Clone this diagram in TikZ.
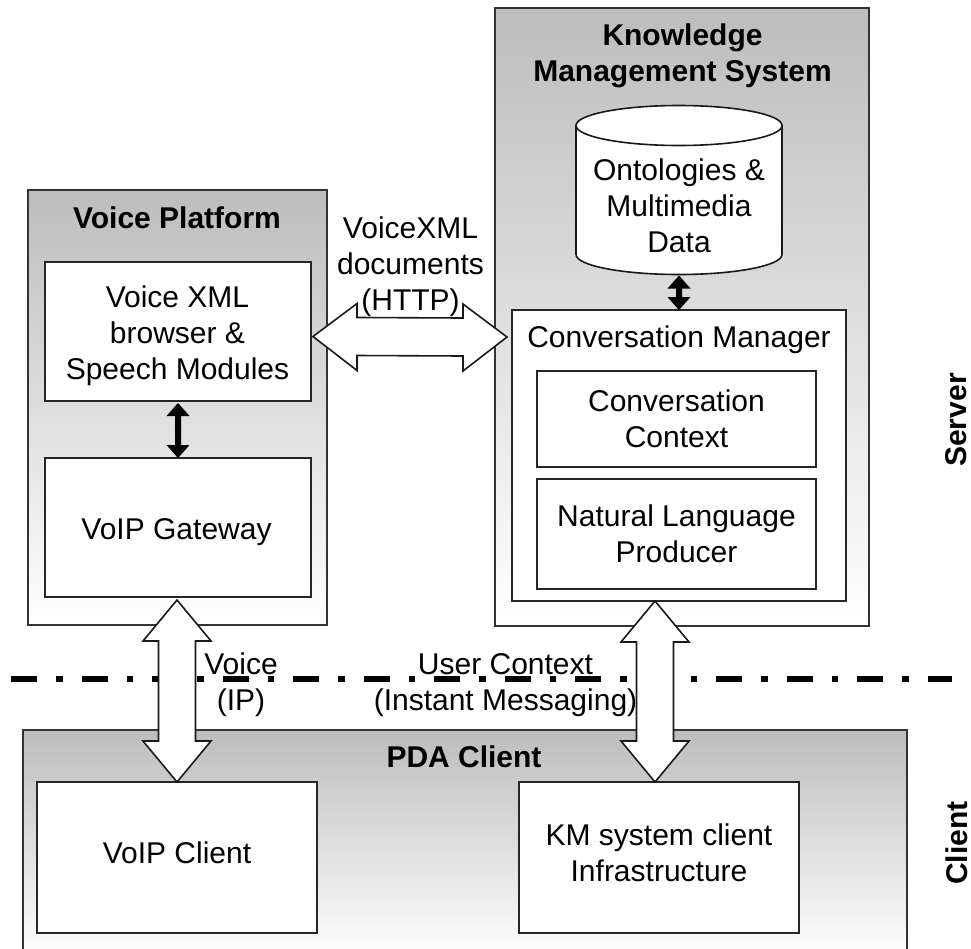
\documentclass[tikz,border=0pt]{standalone}
\usepackage{fontspec}
\setmainfont{Liberation Sans}
\usetikzlibrary{calc}
\definecolor{panelgray}{gray}{0.74}
\tikzset{
  x=1pt,y=-1pt,
  every node/.style={inner sep=0pt,outer sep=0pt},
  lbl/.style={font=\fontsize{30}{36}\selectfont,align=center,text=black},
  title/.style={font=\fontsize{30}{36}\selectfont\bfseries,align=center,text=black},
  panel/.style={draw=black!80,line width=1.4pt,rectangle,anchor=north west,top color=panelgray,bottom color=white},
  inner/.style={draw=black!85,line width=1.6pt,rectangle,fill=white,anchor=north west,lbl},
  block/.style={draw=black!90,line width=1.6pt,fill=white,line join=miter},
  solid arrow/.style={fill=black,draw=none},
  sep/.style={line width=6pt,black,dash pattern=on 26pt off 19pt on 6.5pt off 19pt}
}
\newcommand{\vblock}[2]{%
  \draw[block] (#1) -- ($(#1)+(34,41)$) -- ($(#1)+(18.5,41)$) -- ($(#2)+(18.5,-41)$) -- ($(#2)+(34,-41)$) -- (#2)
     -- ($(#2)+(-34,-41)$) -- ($(#2)+(-18.5,-41)$) -- ($(#1)+(-18.5,41)$) -- ($(#1)+(-34,41)$) -- cycle;}
\newcommand{\vsolid}[2]{%
  \fill[solid arrow] (#1) -- ($(#1)+(11.5,13)$) -- ($(#1)+(3,13)$) -- ($(#2)+(3,-13)$) -- ($(#2)+(11.5,-13)$) -- (#2)
     -- ($(#2)+(-11.5,-13)$) -- ($(#2)+(-3,-13)$) -- ($(#1)+(-3,13)$) -- ($(#1)+(-11.5,13)$) -- cycle;}
\begin{document}
\begin{tikzpicture}
\useasboundingbox (0,0) rectangle (971,948);
\clip (0,0) rectangle (971,948);
% panels
\node[panel,minimum width=299pt,minimum height=435pt] (vp) at (28,190) {};
\node[panel,minimum width=374pt,minimum height=618pt] (kms) at (495,8) {};
\node[panel,minimum width=884pt,minimum height=228pt] (pda) at (23,730) {};
% titles
\node[title] (vptitle) at (177,218) {Voice Platform};
\node[title] (kmstitle) at (682.5,56) {Knowledge\\Management System};
\node[title] (pdatitle) at (464,757) {PDA Client};
% inner boxes
\node[inner,minimum width=266pt,minimum height=139pt] (vxml) at (45,262) {};
\node[lbl] (vxmltext) at (177.5,335.5) {Voice XML\\browser \&\\Speech Modules};
\node[inner,minimum width=266pt,minimum height=139pt] (gw) at (45,458) {};
\node[lbl] (gwtext) at (176.5,532) {VoIP Gateway};
\node[inner,minimum width=334pt,minimum height=291pt] (cm) at (512,310) {};
\node[lbl] (cmtitle) at (679,340) {Conversation Manager};
\node[inner,minimum width=279pt,minimum height=96pt] (ctx) at (537,371) {Conversation\\Context};
\node[inner,minimum width=279pt,minimum height=110pt] (nlp) at (537,479) {Natural Language\\Producer};
\node[inner,minimum width=280pt,minimum height=151pt] (vc) at (37,782) {};
\node[lbl] (vctext) at (177,853) {VoIP Client};
\node[inner,minimum width=280pt,minimum height=151pt] (kc) at (519,782) {};
\node[lbl] (kctext) at (659,852.5) {KM system client\\Infrastructure};
% database
\node[minimum width=206pt,minimum height=129pt] (db) at (679,190) {};
\draw[draw=black!90,line width=1.6pt,fill=white] (db.north west) arc[start angle=180,end angle=0,x radius=103pt,y radius=20pt]
   -- (db.south east) arc[start angle=0,end angle=-180,x radius=103pt,y radius=20pt] -- cycle;
\draw[draw=black!90,line width=1.6pt] (db.north west) arc[start angle=180,end angle=360,x radius=103pt,y radius=20pt];
\node[lbl] (dbtext) at (679,206) {Ontologies \&\\Multimedia\\Data};
% separator
\coordinate (sepL) at (11,679);
\coordinate (sepR) at (952,679);
\draw[sep] (sepL) -- (sepR);
% block arrows
\coordinate (a1) at ($(gw.south)+(-1,3)$);
\coordinate (a2) at (vc.north);
\vblock{a1}{a2}
\coordinate (b1) at ($(cm.south)+(-24,0)$);
\coordinate (b2) at ($(kc.north)+(-4,0)$);
\vblock{b1}{b2}
\coordinate (h1) at ($(vxml.east)+(2,5)$);
\coordinate (h2) at ($(cm.north west)+(-5,27)$);
\draw[block] (h1) -- ($(h1)+(44,-33)$) -- ($(h1)+(44,-19)$) -- ($(h2)+(-44,-19)$) -- ($(h2)+(-44,-33)$) -- (h2)
   -- ($(h2)+(-44,34)$) -- ($(h2)+(-44,19)$) -- ($(h1)+(44,19)$) -- ($(h1)+(44,34)$) -- cycle;
% solid arrows
\coordinate (s1) at ($(vxml.south)+(0,2)$);
\coordinate (s2) at (gw.north);
\vsolid{s1}{s2}
\coordinate (t1) at ($(db.south)+(0,21)$);
\coordinate (t2) at (cm.north);
\vsolid{t1}{t2}
% connector labels
\node[lbl] (ll1) at (410.5,266.5) {VoiceXML\\documents\\(HTTP)};
\node[lbl] (ll2) at (241,684.7) {Voice\\(IP)};
\node[lbl] (ll3) at (505.5,684.7) {User Context\\(Instant Messaging)};
% side labels
\node[title,rotate=90] (srv) at (956.5,420) {Server};
\node[title,rotate=90] (cli) at (956.5,843) {Client};
\end{tikzpicture}
\end{document}
